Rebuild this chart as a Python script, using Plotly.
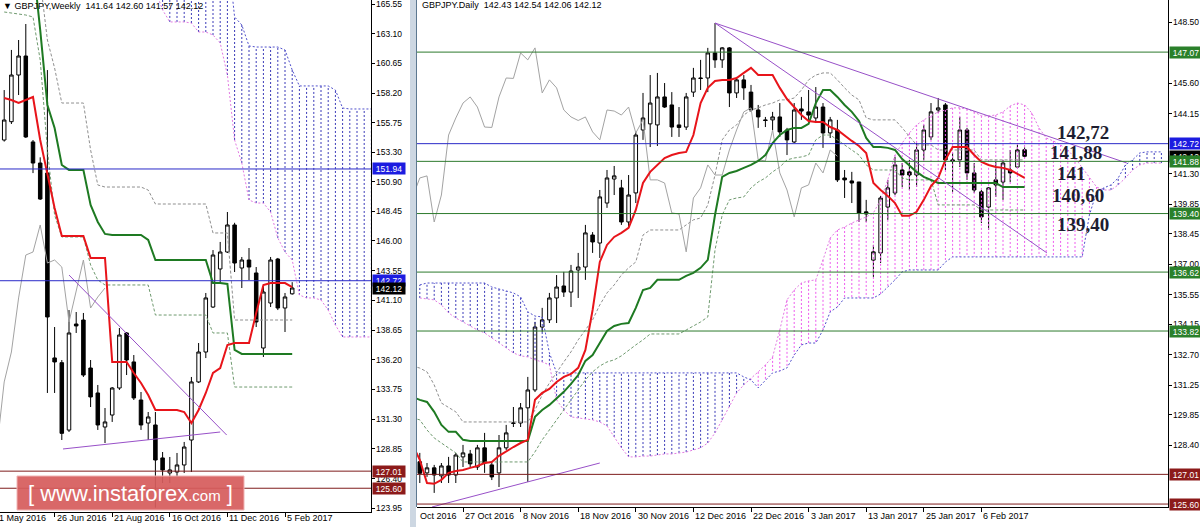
import plotly.graph_objects as go

W, H = 1200, 527
FONT = "Liberation Sans"

# ======================= WEEKLY (left panel) =======================
w_first = 1
w_open = [154.33, 155.84, 159.69, 161.26, 154.17, 152.43, 151.61, 136.35, 135.96, 130.40,
          139.15, 139.48, 135.52, 133.46, 130.65, 131.64, 133.87, 138.41, 136.02, 132.88,
          130.98, 130.82, 128.10, 126.86, 126.94, 127.52, 129.58, 134.37, 136.84, 140.55,
          143.69, 145.09, 147.32, 143.77, 144.43, 143.36, 137.17, 140.88, 144.51, 140.47, 141.64]
w_high = [158.45, 161.76, 162.58, 163.90, 154.33, 152.90, 160.10, 138.90, 136.18, 140.30,
          140.14, 140.06, 136.18, 134.12, 132.22, 133.95, 138.82, 138.49, 136.59, 133.54,
          131.89, 131.89, 128.59, 128.18, 128.51, 129.42, 134.78, 137.58, 141.71, 145.25,
          145.92, 148.39, 147.50, 144.68, 145.42, 143.85, 142.20, 144.68, 144.60, 141.71, 142.60]
w_low = [154.20, 155.65, 158.04, 154.50, 151.60, 149.38, 133.46, 133.46, 129.58, 130.24,
         138.41, 134.78, 132.30, 130.41, 129.33, 131.07, 133.71, 134.94, 132.88, 130.41,
         129.58, 124.00, 126.03, 126.03, 126.53, 126.86, 126.94, 134.28, 136.34, 140.47,
         142.53, 145.01, 143.44, 142.12, 142.78, 138.90, 136.43, 140.55, 140.30, 138.49, 141.57]
w_close = [155.98, 159.69, 161.26, 154.58, 152.43, 149.46, 139.73, 136.02, 130.13, 138.41,
           138.99, 134.94, 133.13, 130.82, 131.07, 133.87, 138.24, 136.18, 133.05, 130.82,
           131.48, 127.93, 127.11, 127.11, 127.52, 129.00, 134.37, 136.84, 141.30, 144.84,
           145.09, 147.32, 144.18, 144.43, 143.85, 139.32, 141.79, 144.43, 140.47, 141.38, 142.12]
w_tenkan = [157.80, 157.63, 157.38, 157.63, 157.88, 154.33, 151.61, 148.72, 146.41, 146.41,
            146.41, 146.41, 144.60, 144.60, 144.60, 136.02, 136.02, 136.02, 135.11, 134.28,
            133.29, 132.06, 132.06, 132.06, 132.06, 131.89, 130.98, 132.06, 133.46, 135.11,
            135.52, 137.42, 137.58, 137.58, 137.58, 140.06, 142.37, 142.53, 142.53, 142.53, 142.20]
w_kijun = [171.00, 171.00, 171.00, 171.00, 169.00, 163.41, 157.22, 155.32, 152.27, 151.86,
           151.86, 151.86, 148.97, 147.57, 146.58, 146.49, 146.49, 146.49, 146.49, 146.49,
           146.08, 144.43, 144.43, 144.43, 144.43, 144.43, 144.43, 144.43, 144.43, 142.53,
           142.53, 142.45, 137.01, 136.68, 136.68, 136.68, 136.68, 136.68, 136.68, 136.68, 136.68]
w_env_up = [167.50, 167.50, 167.50, 167.50, 167.50, 167.50, 162.58, 160.27, 157.38, 157.38,
            157.38, 157.38, 153.51, 150.62, 150.45, 150.45, 150.45, 150.45, 150.45, 150.45,
            150.20, 149.05, 149.05, 149.05, 149.05, 149.05, 149.05, 149.05, 149.05, 146.66,
            146.66, 146.66, 139.48, 139.48, 139.48, 139.48, 139.48, 139.48, 139.48, 139.48, 139.48]
w_env_dn = [164.89, 164.81, 164.73, 164.64, 164.48, 160.93, 153.51, 148.14, 146.33, 146.33,
            146.33, 146.33, 144.02, 142.78, 142.37, 142.37, 142.37, 142.37, 142.37, 142.37,
            142.37, 139.89, 139.89, 139.89, 139.89, 139.89, 139.89, 139.89, 139.89, 138.41,
            138.41, 138.41, 133.95, 133.95, 133.95, 133.95, 133.95, 133.95, 133.95, 133.95, 133.95]
w_span_first = 22
w_span_a = [166.70, 165.06, 164.07, 164.07, 164.07, 163.98, 163.24, 163.24, 162.99, 162.33,
            159.69, 154.33, 152.43, 149.38, 149.13, 149.13, 148.39, 146.25, 145.09, 144.43,
            141.54, 141.30, 141.30, 141.13, 140.30, 139.07, 138.08, 138.08, 138.08, 138.08, 138.08]
w_span_b = [170.00, 170.00, 170.00, 170.00, 170.00, 170.00, 170.00, 170.00, 170.00, 170.00,
            170.00, 164.48, 163.82, 162.09, 162.00, 162.00, 162.00, 162.00, 161.76, 160.11,
            158.79, 158.79, 158.79, 158.79, 158.79, 158.45, 156.97, 156.89, 156.89, 156.89, 156.89]
w_date_idx = [0, 8, 16, 24, 32, 40]
w_date_txt = ["1 May 2016", "26 Jun 2016", "21 Aug 2016", "16 Oct 2016", "11 Dec 2016", "5 Feb 2017"]
w_ticks = [165.55, 163.10, 160.65, 158.20, 155.75, 153.30, 150.90, 148.45, 146.00, 143.55,
           141.10, 138.65, 136.20, 133.75, 131.30, 128.85, 126.40, 123.95]
w_levels = [151.94, 142.72, 127.01, 125.60]
w_level_kind = ["blue", "blue", "red", "red"]
w_trend = [((10.0, 143.19), (31.9, 129.99)), ((9.17, 128.84), (31.0, 130.24))]

# ======================= DAILY (right panel) =======================
d_first = 2
d_open = [127.61, 127.08, 127.32, 126.94, 127.41, 126.98, 127.84, 127.98, 127.36, 128.27,
          127.46, 127.08, 128.27, 129.43, 129.45, 130.17, 131.02, 134.01, 134.35, 135.39,
          135.96, 135.67, 136.72, 136.86, 138.38, 138.00, 139.90, 141.04, 140.62, 139.00,
          140.38, 143.37, 143.66, 143.61, 144.94, 144.56, 143.61, 143.51, 145.17, 145.84,
          145.84, 147.03, 146.70, 147.27, 145.13, 145.75, 145.17, 144.32, 143.85, 143.85,
          143.99, 143.37, 142.80, 144.37, 144.23, 143.94, 144.46, 143.23, 143.37, 141.09,
          140.95, 140.90, 139.48, 137.19, 137.53, 139.71, 140.38, 141.47, 141.38, 141.23,
          142.42, 143.04, 144.32, 144.56, 141.95, 141.95, 143.37, 141.33, 140.43, 139.71,
          141.00, 140.90, 141.47, 141.61, 142.43]
d_high = [128.03, 127.55, 127.46, 127.55, 127.84, 128.03, 128.41, 128.17, 128.41, 128.98,
          127.55, 128.88, 129.36, 130.21, 130.40, 131.64, 134.25, 134.92, 135.63, 136.48,
          136.63, 136.96, 137.53, 138.86, 138.52, 140.52, 141.47, 141.66, 141.00, 141.23,
          143.28, 145.13, 145.98, 146.08, 145.60, 145.17, 144.46, 145.13, 146.32, 146.70,
          147.27, 148.45, 147.31, 147.31, 145.89, 145.98, 145.51, 144.56, 143.99, 144.23,
          144.65, 143.47, 144.65, 144.94, 145.27, 145.41, 144.65, 143.99, 143.85, 141.47,
          141.38, 140.90, 140.05, 137.91, 140.24, 141.00, 142.09, 141.80, 141.95, 142.75,
          143.61, 144.65, 144.89, 144.65, 142.28, 143.99, 143.47, 141.80, 140.52, 140.66,
          141.85, 141.95, 142.42, 142.66, 142.54]
d_low = [126.60, 126.89, 126.13, 126.60, 126.60, 126.60, 127.36, 127.36, 127.22, 127.08,
         126.74, 126.41, 128.17, 129.26, 129.26, 126.65, 130.92, 133.78, 134.20, 134.20,
         135.44, 134.96, 135.39, 136.25, 137.53, 137.29, 139.67, 140.28, 138.86, 138.72,
         139.90, 142.90, 142.56, 142.61, 144.42, 143.04, 143.04, 143.37, 144.94, 145.27,
         145.17, 146.32, 146.32, 144.46, 144.89, 144.80, 144.23, 143.47, 143.51, 143.37,
         143.04, 142.18, 142.75, 143.85, 143.85, 143.70, 142.52, 142.99, 140.90, 140.14,
         139.90, 139.00, 139.00, 136.39, 137.05, 139.10, 140.28, 140.66, 140.52, 140.66,
         141.95, 142.90, 144.18, 141.47, 140.43, 141.61, 141.00, 140.38, 138.95, 138.62,
         140.19, 140.05, 140.90, 141.57, 142.06]
d_close = [127.06, 127.32, 126.98, 127.41, 126.98, 127.93, 128.03, 127.51, 128.27, 127.55,
           126.89, 128.27, 128.98, 129.45, 130.17, 131.02, 134.01, 134.35, 135.39, 135.91,
           135.67, 136.67, 136.86, 138.48, 138.05, 140.19, 141.09, 141.19, 139.00, 140.28,
           143.13, 143.94, 144.65, 144.94, 144.46, 143.51, 143.49, 144.94, 145.84, 145.82,
           147.03, 146.70, 147.27, 145.13, 145.75, 145.37, 144.32, 143.99, 143.82, 143.99,
           143.28, 142.90, 144.32, 144.27, 144.08, 144.46, 143.23, 143.85, 141.00, 141.00,
           140.85, 139.43, 139.38, 137.58, 140.14, 140.62, 141.71, 141.23, 141.23, 142.42,
           143.37, 144.23, 144.42, 141.95, 141.90, 143.37, 141.33, 140.52, 139.24, 140.62,
           140.76, 141.80, 141.33, 142.42, 142.12]
d_line_first = 1
d_tenkan = [128.41, 127.70, 126.60, 126.56, 126.75, 127.08, 127.17, 127.22, 127.32, 127.41,
            127.55, 127.60, 127.89, 128.12, 128.31, 128.50, 128.65, 130.55, 130.88, 131.07,
            131.40, 131.64, 131.78, 132.07, 132.92, 134.82, 137.10, 137.91, 138.29, 138.48,
            138.72, 139.57, 140.85, 141.38, 141.71, 142.04, 142.18, 142.28, 142.33, 143.13,
            144.65, 145.37, 145.70, 145.75, 145.75, 145.84, 146.08, 146.32, 145.98, 145.98,
            145.98, 145.37, 144.84, 144.46, 144.08, 143.80, 143.75, 143.75, 143.51, 143.37,
            143.09, 142.85, 142.61, 142.28, 140.85, 140.52, 140.24, 139.90, 139.29, 139.29,
            139.48, 140.05, 140.71, 141.09, 141.95, 142.56, 142.56, 142.56, 142.18, 141.85,
            141.71, 141.61, 141.57, 141.47, 141.28, 141.09]
d_kijun = [130.69, 130.55, 130.45, 129.98, 129.36, 129.03, 129.03, 128.65, 128.60, 128.60,
           128.60, 128.60, 128.60, 128.60, 128.60, 128.60, 128.60, 129.74, 130.07, 130.31,
           130.64, 130.93, 131.31, 131.73, 132.40, 132.68, 133.25, 133.82, 134.06, 134.16,
           134.20, 134.92, 135.77, 135.87, 136.25, 136.25, 136.25, 136.25, 136.44, 136.58,
           136.82, 137.20, 139.33, 141.14, 141.33, 141.42, 141.57, 141.71, 141.90, 142.18,
           142.75, 143.13, 143.37, 143.47, 143.47, 143.66, 144.65, 145.27, 145.27, 144.94,
           144.56, 144.23, 143.80, 142.99, 142.56, 142.56, 142.52, 142.42, 141.99, 141.66,
           141.38, 141.14, 141.00, 140.85, 140.85, 140.85, 140.85, 140.85, 140.85, 140.85,
           140.85, 140.85, 140.66, 140.66, 140.66, 140.66]
d_env_up = [132.16, 132.06, 131.88, 131.26, 130.40, 130.17, 129.98, 129.50, 129.50, 129.50,
            129.50, 129.50, 129.50, 129.50, 129.50, 129.50, 129.50, 130.07, 130.78, 131.35,
            131.88, 132.35, 132.83, 133.40, 133.87, 134.35, 135.06, 135.63, 136.01, 136.48,
            136.82, 137.10, 138.38, 138.62, 138.62, 138.62, 138.62, 138.62, 138.86, 139.10,
            139.19, 139.81, 141.23, 142.90, 143.37, 143.61, 144.08, 144.32, 144.42, 144.56,
            144.65, 144.80, 144.80, 144.89, 145.27, 145.75, 145.98, 146.08, 146.08, 145.75,
            145.37, 145.03, 144.80, 143.94, 143.85, 143.85, 143.85, 143.85, 143.47, 143.04,
            142.66, 142.66, 142.66, 142.42, 142.42, 142.42, 142.42, 142.42, 142.42, 141.95,
            141.95, 141.95, 141.95, 141.95, 141.95, 141.95]
d_env_dn = [129.69, 129.60, 129.12, 128.74, 128.50, 128.27, 128.03, 127.60, 127.60, 127.60,
            127.60, 127.60, 127.60, 127.60, 127.60, 127.60, 127.60, 128.08, 128.65, 129.12,
            129.60, 130.07, 130.55, 131.02, 131.50, 131.88, 132.16, 132.35, 132.45, 132.64,
            132.92, 133.16, 133.40, 133.68, 133.68, 133.68, 133.68, 133.68, 133.87, 134.06,
            134.25, 134.49, 137.67, 139.33, 140.05, 140.14, 140.19, 140.62, 140.90, 141.09,
            141.38, 141.61, 141.95, 142.04, 142.09, 142.18, 142.90, 143.13, 143.13, 142.90,
            142.66, 142.42, 142.18, 141.71, 141.47, 141.47, 141.47, 141.47, 141.09, 141.00,
            141.00, 141.00, 141.00, 139.81, 139.81, 139.81, 139.81, 139.81, 139.81, 139.57,
            139.57, 139.57, 139.57, 139.57, 139.57, 139.57]
d_span_first = 2
d_span_a = [135.39, 135.35, 135.30, 135.06, 134.68, 134.44, 134.25, 134.06, 133.87, 133.73,
            133.49, 133.25, 133.02, 132.78, 132.64, 132.59, 132.45, 132.35, 132.21, 130.55,
            130.07, 129.74, 129.69, 129.64, 129.60, 129.50, 129.31, 128.79, 128.27, 127.84,
            127.84, 127.88, 127.88, 127.93, 127.98, 127.98, 128.03, 128.07, 128.17, 128.27,
            128.50, 128.98, 129.60, 130.21, 130.88, 131.26, 131.55, 131.88, 132.21, 132.59,
            133.87, 135.30, 135.77, 136.10, 136.20, 136.25, 137.20, 138.24, 138.62, 138.76,
            138.95, 139.10, 139.24, 139.43, 140.05, 141.00, 142.18, 142.75, 143.23, 143.61,
            143.85, 144.04, 144.23, 144.32, 144.42, 144.42, 144.37, 144.23, 144.04, 144.04,
            144.08, 144.23, 144.51, 144.65, 144.56, 144.18, 143.47, 142.99, 142.85, 142.66,
            142.42, 142.04, 141.57, 141.09, 140.66, 140.52, 140.52, 140.76, 141.09, 141.47,
            141.71, 141.80, 141.80, 141.80]
d_span_b = [136.01, 136.10, 136.10, 136.10, 136.10, 136.10, 136.10, 136.10, 136.10, 136.10,
            135.91, 135.82, 135.72, 135.63, 135.44, 134.73, 134.53, 134.49, 132.78, 131.83,
            131.83, 131.83, 131.83, 131.83, 131.83, 131.83, 131.83, 131.83, 131.83, 131.83,
            131.83, 131.83, 131.83, 131.83, 131.83, 131.83, 131.83, 131.83, 131.83, 131.83,
            131.83, 131.83, 131.83, 131.83, 131.83, 131.64, 131.50, 131.12, 131.50, 131.83,
            131.92, 132.07, 132.68, 133.16, 133.25, 133.25, 133.87, 134.73, 134.96, 135.39,
            135.39, 135.39, 135.39, 135.39, 135.58, 135.91, 136.25, 136.63, 136.72, 136.72,
            136.72, 136.72, 136.72, 137.10, 137.34, 137.34, 137.34, 137.34, 137.34, 137.34,
            137.34, 137.34, 137.34, 137.34, 137.34, 137.34, 137.34, 137.34, 137.34, 137.34,
            137.34, 137.34, 137.34, 139.33, 140.43, 140.62, 140.76, 141.09, 141.71, 141.95,
            142.28, 142.33, 142.33, 142.33]
d_date_idx = [0, 8, 16, 24, 32, 40, 48, 56, 64, 72, 80]
d_date_txt = ["17 Oct 2016", "27 Oct 2016", "8 Nov 2016", "18 Nov 2016", "30 Nov 2016", "12 Dec 2016",
              "22 Dec 2016", "3 Jan 2017", "13 Jan 2017", "25 Jan 2017", "6 Feb 2017"]
d_ticks = [148.50, 145.60, 144.15, 141.30, 139.85, 138.45, 137.00, 135.55, 134.15, 132.70,
           131.25, 129.85, 128.40]
d_levels = [147.07, 142.72, 141.88, 139.40, 136.62, 133.82, 127.01, 125.60]
d_level_kind = ["green", "blue", "green", "green", "green", "green", "red", "red"]
d_trend = [((43.0, 148.45), (100.2, 141.80)), ((43.0, 148.45), (89.1, 137.53)),
           ((3.7, 125.46), (27.0, 127.55))]
d_marks = ["142,72", "141,88", "141", "140,60", "139,40"]

# ======================= geometry / styles =======================
BAR = 7.2
L_PX = (0, 371); L_BAR0 = -3.0; L_BOT = 512; L_YR = (123.64, 165.88)
R_PX = (417, 1168); R_BAR0 = 405.4; R_BOT = 507; R_YR = (125.46, 149.545)
L_XR = ((L_PX[0] - L_BAR0) / BAR, (L_PX[1] - L_BAR0) / BAR)
R_XR = ((R_PX[0] - R_BAR0) / BAR, (R_PX[1] - R_BAR0) / BAR)
SMALL = 8.5

C_TENKAN = "#e8141a"
C_KIJUN = "#1e7a22"
C_CHIKOU = "#a3a3a3"
C_BEAR = "#3a3ab8"
C_BULL = "#ee5cee"
C_SPAN_A = "#e27ae2"
C_SPAN_B = "#5050cc"
C_TREND = "#9850c8"
LEVEL_COL = {"blue": ("#2a2ac8", "#1c1ce0"), "red": ("#7e1c1c", "#8c1a1a"), "green": ("#2d7a2d", "#2a802a")}

fig = go.Figure()


def add_panel(xa, ya, first, o, h, l, c, line_first, tenkan, kijun, env_up, env_dn,
              span_first, sa, sb):
    # cloud hatch, one dotted vertical per bar
    for bull, col in ((False, C_BEAR), (True, C_BULL)):
        xs, ys = [], []
        for k, (a, b) in enumerate(zip(sa, sb)):
            if (a > b) == bull:
                i = span_first + k
                xs += [i, i, None]
                ys += [a, b, None]
        fig.add_trace(go.Scatter(x=xs, y=ys, mode="lines", xaxis=xa, yaxis=ya, hoverinfo="skip",
                                 line=dict(color=col, width=1, dash="2px,2px")))
    sx = [span_first + k for k in range(len(sa))]
    fig.add_trace(go.Scatter(x=sx, y=sa, mode="lines", xaxis=xa, yaxis=ya, hoverinfo="skip",
                             line=dict(color=C_SPAN_A, width=1, dash="2px,2px")))
    fig.add_trace(go.Scatter(x=sx, y=sb, mode="lines", xaxis=xa, yaxis=ya, hoverinfo="skip",
                             line=dict(color=C_SPAN_B, width=1, dash="2px,2px")))
    lx = [line_first + k for k in range(len(tenkan))]
    fig.add_trace(go.Scatter(x=lx, y=env_up, mode="lines", xaxis=xa, yaxis=ya, hoverinfo="skip",
                             line=dict(color="#8f8f8f", width=1, dash="3px,2px")))
    fig.add_trace(go.Scatter(x=lx, y=env_dn, mode="lines", xaxis=xa, yaxis=ya, hoverinfo="skip",
                             line=dict(color="#6f9a6f", width=1, dash="3px,2px")))
    cx = [first + k for k in range(len(c))]
    # chikou: close shifted 26 bars back
    fig.add_trace(go.Scatter(x=[i - 26 for i in cx], y=c, mode="lines", xaxis=xa, yaxis=ya,
                             hoverinfo="skip", line=dict(color=C_CHIKOU, width=1)))
    fig.add_trace(go.Scatter(x=lx, y=kijun, mode="lines", xaxis=xa, yaxis=ya, hoverinfo="skip",
                             line=dict(color=C_KIJUN, width=2)))
    fig.add_trace(go.Scatter(x=lx, y=tenkan, mode="lines", xaxis=xa, yaxis=ya, hoverinfo="skip",
                             line=dict(color=C_TENKAN, width=2)))
    fig.add_trace(go.Candlestick(x=cx, open=o, high=h, low=l, close=c, xaxis=xa, yaxis=ya,
                                 whiskerwidth=0, hoverinfo="skip",
                                 increasing=dict(fillcolor="white", line=dict(color="black", width=1)),
                                 decreasing=dict(fillcolor="black", line=dict(color="black", width=1))))


add_panel("x", "y", w_first, w_open, w_high, w_low, w_close, w_first, w_tenkan, w_kijun,
          w_env_up, w_env_dn, w_span_first, w_span_a, w_span_b)
add_panel("x2", "y2", d_first, d_open, d_high, d_low, d_close, d_line_first, d_tenkan, d_kijun,
          d_env_up, d_env_dn, d_span_first, d_span_a, d_span_b)

for xa, ya, trends in (("x", "y", w_trend), ("x2", "y2", d_trend)):
    for (x0, y0), (x1, y1) in trends:
        fig.add_trace(go.Scatter(x=[x0, x1], y=[y0, y1], mode="lines", xaxis=xa, yaxis=ya,
                                 hoverinfo="skip", line=dict(color=C_TREND, width=1)))


def px_x(px):
    return px / W


def px_y(py):
    return 1 - py / H


def axis_common(**kw):
    d = dict(showgrid=False, zeroline=False, showline=True, linecolor="black", linewidth=1,
             ticks="outside", tickcolor="black", tickwidth=1, fixedrange=True, showticklabels=False)
    d.update(kw)
    return d


fig.update_layout(
    width=W, height=H, autosize=False, margin=dict(l=0, r=0, t=0, b=0),
    paper_bgcolor="white", plot_bgcolor="white", showlegend=False,
    font=dict(family=FONT, size=9, color="black"),
    xaxis=axis_common(domain=[px_x(L_PX[0]), px_x(L_PX[1])], range=list(L_XR), anchor="y",
                      tickvals=w_date_idx, ticklen=4, rangeslider=dict(visible=False)),
    yaxis=axis_common(domain=[px_y(L_BOT), 1], range=list(L_YR), anchor="x", side="right",
                      tickvals=w_ticks, ticklen=3),
    xaxis2=axis_common(domain=[px_x(R_PX[0]), px_x(R_PX[1])], range=list(R_XR), anchor="y2",
                       tickvals=d_date_idx, ticklen=4, rangeslider=dict(visible=False)),
    yaxis2=axis_common(domain=[px_y(R_BOT), 1], range=list(R_YR), anchor="x2", side="right",
                       tickvals=d_ticks, ticklen=3),
)

shapes = []
# window separator between the two charts
shapes.append(dict(type="rect", xref="paper", yref="paper", x0=px_x(410), x1=px_x(416), y0=0, y1=1,
                   fillcolor="#cdd7e2", line=dict(width=0), layer="above"))
shapes.append(dict(type="line", xref="paper", yref="paper", x0=px_x(416.5), x1=px_x(416.5),
                   y0=px_y(R_BOT), y1=1, line=dict(color="#5d7890", width=1), layer="above"))
# horizontal price levels
for xa, ya, levels, kinds in (("x", "y", w_levels, w_level_kind), ("x2", "y2", d_levels, d_level_kind)):
    for v, k in zip(levels, kinds):
        shapes.append(dict(type="line", xref=f"{xa} domain", yref=ya, x0=0, x1=1, y0=v, y1=v,
                           line=dict(color=LEVEL_COL[k][0], width=1), layer="above"))
# instaforex watermark box
shapes.append(dict(type="rect", xref="paper", yref="paper", x0=px_x(17), x1=px_x(244),
                   y0=px_y(510), y1=px_y(476), fillcolor="rgba(214,92,92,0.93)",
                   line=dict(color="#f0b4b4", width=1), layer="above"))
fig.update_layout(shapes=shapes)

ann = []

# price-axis tick labels (MT4 style, left aligned next to the axis)
for xa, ya, ticks in (("x", "y", w_ticks), ("x2", "y2", d_ticks)):
    for v in ticks:
        ann.append(dict(x=1, xref=f"{xa} domain", xanchor="left", xshift=3, y=v, yref=ya,
                        yanchor="middle", text=f"{v:.2f}", showarrow=False,
                        font=dict(family=FONT, size=SMALL, color="black")))


def price_box(xa, ya, v, bg):
    ann.append(dict(x=1, xref=f"{xa} domain", xanchor="left", xshift=1, y=v, yref=ya, yanchor="middle",
                    text=f"{v:.2f}", showarrow=False, bgcolor=bg, borderpad=0, width=32, height=11,
                    align="center", font=dict(family=FONT, size=SMALL, color="white")))


# left axis labels
for v, k in zip(w_levels, w_level_kind):
    price_box("x", "y", v, LEVEL_COL[k][1])
price_box("x", "y", w_close[-1], "#000000")
# right axis labels (current price drawn first, level labels on top)
price_box("x2", "y2", d_close[-1], "#000000")
for v, k in zip(d_levels, d_level_kind):
    price_box("x2", "y2", v, LEVEL_COL[k][1])

# date labels (left aligned at the tick like MT4)
for xr, bar0, idxs, txts, py in ((L_XR, L_BAR0, w_date_idx, w_date_txt, 518),
                                 (R_XR, R_BAR0, d_date_idx, d_date_txt, 516)):
    for i, t in zip(idxs, txts):
        px = bar0 + BAR * i
        if xr is R_XR and px < R_PX[0]:
            t = t.split(" ", 1)[1]
            px = R_PX[0] + 1
        ann.append(dict(x=px_x(px), xref="paper", xanchor="left", y=px_y(py), yref="paper",
                        yanchor="middle", text=t, showarrow=False,
                        font=dict(family=FONT, size=9, color="black")))

# chart titles
ann.append(dict(x=px_x(1), xref="paper", xanchor="left", y=px_y(6), yref="paper", yanchor="middle",
                showarrow=False, font=dict(family=FONT, size=9, color="black"),
                text=f"\u25bc GBPJPY,Weekly  {w_open[-1]:.2f} {w_high[-1]:.2f} {w_low[-1]:.2f} {w_close[-1]:.2f}"))
ann.append(dict(x=px_x(420), xref="paper", xanchor="left", y=px_y(5), yref="paper", yanchor="middle",
                showarrow=False, font=dict(family=FONT, size=9, color="black"),
                text=f"GBPJPY.Daily  {d_open[-1]:.2f} {d_high[-1]:.2f} {d_low[-1]:.2f} {d_close[-1]:.2f}"))

# big analyst labels on the daily chart
for t, (px, py) in zip(d_marks, [(1055, 132), (1048, 153), (1055, 173), (1050, 195), (1055, 224)]):
    ann.append(dict(x=px_x(px), xref="paper", xanchor="left", y=px_y(py), yref="paper", yanchor="middle",
                    text=f"<b>{t}</b>", showarrow=False,
                    font=dict(family="Liberation Serif", size=19, color="#1d1d30")))

# watermark text
ann.append(dict(x=px_x(130), xref="paper", xanchor="center", y=px_y(493), yref="paper", yanchor="middle",
                showarrow=False, font=dict(family=FONT, size=22, color="white"),
                text="[ www.instaforex<span style='font-size:15px'>.com</span> ]"))

fig.update_layout(annotations=ann)
fig.write_html("out.html", config={"displayModeBar": False},
               post_script="document.body.style.margin='0px';")
